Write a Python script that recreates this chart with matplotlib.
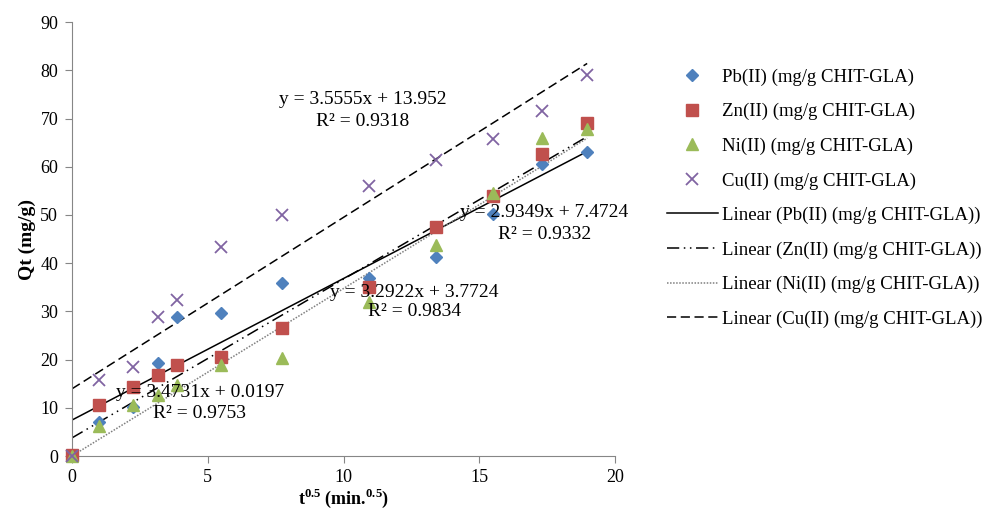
import numpy as np
import matplotlib
matplotlib.use("Agg")
import matplotlib.pyplot as plt

plt.rcParams['font.family'] = ['Liberation Serif', 'DejaVu Serif']
plt.rcParams['mathtext.fontset'] = 'custom'
plt.rcParams['mathtext.rm'] = 'Liberation Serif'
plt.rcParams['mathtext.bf'] = 'Liberation Serif:bold'

# sqrt(t) values
t_sqrt = [0, 1, 2.236, 3.162, 3.873, 5.477, 7.746, 10.954, 13.416, 15.492, 17.321, 18.974]

pb = [0, 7.0, 10.2, 19.3, 28.8, 29.7, 35.8, 37.0, 41.3, 50.1, 60.6, 63.0]
zn = [0.3, 10.6, 14.4, 16.8, 18.8, 20.6, 26.5, 35.1, 47.6, 54.0, 62.6, 69.1]
ni = [0, 6.3, 10.6, 12.6, 14.8, 18.9, 20.4, 32.0, 43.7, 54.5, 66.0, 67.8]
cu = [0, 15.8, 18.4, 28.8, 32.3, 43.4, 50.0, 56.0, 61.4, 65.8, 71.6, 79.0]

series_names = ['Pb(II) (mg/g CHIT-GLA)', 'Zn(II) (mg/g CHIT-GLA)',
                'Ni(II) (mg/g CHIT-GLA)', 'Cu(II) (mg/g CHIT-GLA)']
slopes = [2.9349, 3.2922, 3.4731, 3.5555]
intercepts = [7.4724, 3.7724, 0.0197, 13.952]
r2 = [0.9332, 0.9834, 0.9753, 0.9318]

colors = ['#4F81BD', '#C0504D', '#9BBB59', '#8064A2']
markers = ['D', 's', '^', 'x']
msizes = [6, 8, 8, 9]
line_styles = ['-', (0, (8, 3, 1, 3, 1, 3)), (0, (1, 1)), (0, (6, 3))]
line_colors = ['black', 'black', '#7f7f7f', 'black']
label_pos = [(17.4, 50.6, 45.9), (12.6, 34.0, 29.9), (4.7, 13.1, 8.9), (10.7, 74.0, 69.3)]

fig = plt.figure(figsize=(9.95, 5.13), dpi=100)
ax = fig.add_axes([0.0724, 0.111, 0.5457, 0.846])

handles = []
all_y = [pb, zn, ni, cu]
for ys, c, m, ms, name in zip(all_y, colors, markers, msizes, series_names):
    if m == 'x':
        h, = ax.plot(t_sqrt, ys, linestyle='none', marker=m, color=c, markersize=ms,
                     markeredgewidth=1.3, clip_on=False, zorder=3, label=name)
    else:
        h, = ax.plot(t_sqrt, ys, linestyle='none', marker=m, color=c, markersize=ms,
                     markeredgecolor=c, clip_on=False, zorder=3, label=name)
    handles.append(h)

xfit = np.array([t_sqrt[0], t_sqrt[-1]])
for a, b, ls, lc, name in zip(slopes, intercepts, line_styles, line_colors, series_names):
    h, = ax.plot(xfit, a * xfit + b, linestyle=ls, color=lc, linewidth=1.1,
                 zorder=2, label='Linear (' + name + ')')
    handles.append(h)

for a, b, r, (px, py, pr) in zip(slopes, intercepts, r2, label_pos):
    ax.text(px, py, 'y = %gx + %g' % (a, b), ha='center', va='center', fontsize=14, zorder=4)
    ax.text(px, pr, 'R² = %.4f' % r, ha='center', va='center', fontsize=14, zorder=4)

ax.set_xlim(0, 20)
ax.set_ylim(0, 90)
ax.set_xticks([0, 5, 10, 15, 20])
ax.set_yticks(range(0, 91, 10))
for s in ['top', 'right']:
    ax.spines[s].set_visible(False)
for s in ['left', 'bottom']:
    ax.spines[s].set_color('#868686')
ax.tick_params(colors='#868686', labelcolor='black', labelsize=13, length=5, direction='out')
ax.tick_params(axis='y', pad=5)
ax.tick_params(axis='x', pad=4)

ax.set_xlabel(r'$\mathbf{t}^{\mathbf{0.5}}$ (min.$^{\mathbf{0.5}}$)', fontsize=13,
              fontweight='bold', labelpad=1)
ax.set_ylabel('Qt (mg/g)', fontsize=14, fontweight='bold', labelpad=3)

fig.legend(handles=handles, loc='upper left', bbox_to_anchor=(0.663, 0.881),
           frameon=False, fontsize=13.5, handlelength=2.7, handletextpad=0.2,
           labelspacing=0.92, borderaxespad=0)

fig.savefig('out.png', dpi=100)
